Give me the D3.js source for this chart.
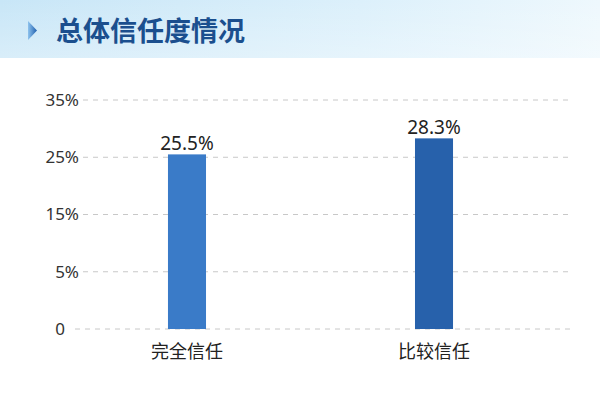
<!DOCTYPE html>
<html>
<head>
<meta charset="utf-8">
<script src="https://cdn.jsdelivr.net/npm/d3@7"></script>
<style>
  body { margin: 0; background: #fff; }
  svg { display: block; font-family: "Noto Sans CJK SC", "Noto Sans", sans-serif; }
</style>
</head>
<body>
<div id="chart"></div>
<script>
// data
const categories = ["完全信任", "比较信任"];
const values = [25.5, 28.3];
const tickValues = [-5, 5, 15, 25, 35];
const tickLabels = ["0", "5%", "15%", "25%", "35%"];
const title = "总体信任度情况";

const width = 600, height = 395;
const margin = { top: 100, right: 29, bottom: 66, left: 83 };

const svg = d3.select("#chart")
  .append("svg")
  .attr("width", width)
  .attr("height", height);

/**
 * header band with gradient
 */
const defs = svg.append("defs");
const hg = defs.append("linearGradient").attr("id", "hdr").attr("x1", 0).attr("x2", 1).attr("y1", 0).attr("y2", 0);
hg.append("stop").attr("offset", "0%").attr("stop-color", "#c8e6f7");
hg.append("stop").attr("offset", "60%").attr("stop-color", "#dcf0fb");
hg.append("stop").attr("offset", "100%").attr("stop-color", "#eef8fd");
const vg = defs.append("linearGradient").attr("id", "hdrv").attr("x1", 0).attr("x2", 0).attr("y1", 0).attr("y2", 1);
vg.append("stop").attr("offset", "0%").attr("stop-color", "#fff").attr("stop-opacity", 0.0);
vg.append("stop").attr("offset", "100%").attr("stop-color", "#fff").attr("stop-opacity", 0.3);
const ag = defs.append("linearGradient").attr("id", "arrow").attr("x1", 0).attr("x2", 1).attr("y1", 0).attr("y2", 0);
ag.append("stop").attr("offset", "0%").attr("stop-color", "#8ec3ee");
ag.append("stop").attr("offset", "100%").attr("stop-color", "#1f5fae");

svg.append("rect").attr("x", 0).attr("y", 0).attr("width", width).attr("height", 58).attr("fill", "url(#hdr)");
svg.append("rect").attr("x", 0).attr("y", 0).attr("width", width).attr("height", 58).attr("fill", "url(#hdrv)");

svg.append("polygon")
  .attr("points", "28,21 37,30.5 28,40 28,21")
  .attr("fill", "url(#arrow)");

svg.append("text")
  .attr("x", 56)
  .attr("y", 41)
  .attr("font-size", 27)
  .attr("font-weight", "bold")
  .attr("fill", "#1b4f8e")
  .text(title);

/**
 * scales
 */
const x = d3.scaleBand()
  .domain(categories)
  .range([margin.left, 538])
  .paddingInner(0.846)
  .paddingOuter(0.344);

const y = d3.scaleLinear()
  .domain([-5, 35])
  .range([height - margin.bottom, margin.top]);

/**
 * grid lines
 */
const grid = svg.append("g");
tickValues.forEach(function(t, i){
  grid.append("line")
    .attr("x1", i == 0 ? 75 : margin.left)
    .attr("x2", width - margin.right)
    .attr("y1", y(t))
    .attr("y2", y(t))
    .attr("stroke", "#c8c8c8")
    .attr("stroke-width", 1)
    .attr("stroke-dasharray", "5,5");
});

/**
 * y axis
 */
const yAxis = d3.axisLeft(y)
  .tickValues(tickValues)
  .tickFormat(function(d, i){ return tickLabels[i]; })
  .tickSize(0)
  .tickPadding(4);

const ya = svg.append("g")
  .attr("transform", "translate(" + (margin.left) + ",0)")
  .call(yAxis);
ya.select(".domain").remove();
ya.selectAll("text")
  .attr("font-size", 17)
  .attr("fill", "#333")
  .attr("font-family", "'Noto Sans', sans-serif")
  .attr("dx", function(d){ return d == -5 ? -14 : 0; });

/**
 * bars
 */
const colors = ["#3a7bc8", "#2761ab"];

svg.selectAll(".bar")
  .data(values)
  .enter()
  .append("rect")
  .attr("class", "bar")
  .attr("x", function(d, i){ return x(categories[i]); })
  .attr("width", x.bandwidth())
  .attr("y", function(d){ return y(d); })
  .attr("height", function(d){ return y(-5) - y(d); })
  .attr("fill", function(d, i){ return colors[i]; });

svg.selectAll(".val")
  .data(values)
  .enter()
  .append("text")
  .attr("class", "val")
  .attr("x", function(d, i){ return x(categories[i]) + x.bandwidth() / 2; })
  .attr("y", function(d){ return y(d) - 4; })
  .attr("text-anchor", "middle")
  .attr("font-size", 19)
  .attr("font-family", "'Noto Sans', sans-serif")
  .attr("fill", "#222")
  .text(function(d){ return d.toFixed(1) + "%"; });

/**
 * x axis labels
 */
const xAxis = d3.axisBottom(x).tickSize(0).tickPadding(16);
const xa = svg.append("g")
  .attr("transform", "translate(0," + y(-5) + ")")
  .call(xAxis);
xa.select(".domain").remove();
xa.selectAll("text")
  .attr("font-size", 18)
  .attr("fill", "#222")
  .attr("font-family", "'Noto Sans CJK SC', sans-serif");
</script>
</body>
</html>
